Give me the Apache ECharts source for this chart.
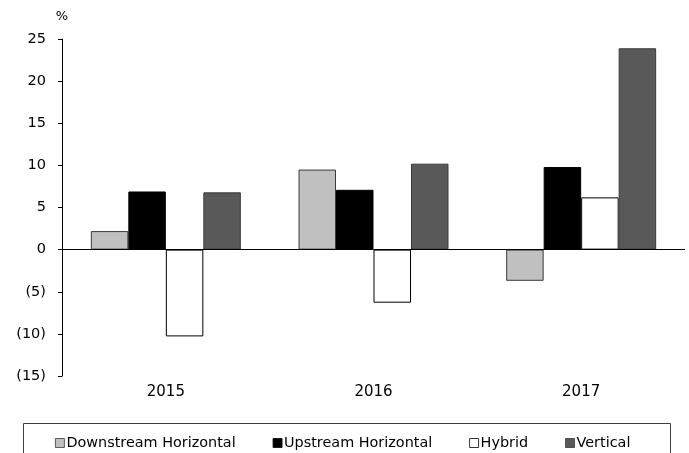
<!DOCTYPE html>
<html>
<head>
<meta charset="utf-8">
<script src="https://cdn.jsdelivr.net/npm/echarts@6/dist/echarts.min.js"></script>
<style>
  html, body { margin: 0; padding: 0; background: #fff; }
  #chart { width: 689px; height: 453px; }
</style>
</head>
<body>
<div id="chart"></div>
<script>
// Growth by deal type, percent
const years = ['2015', '2016', '2017'];
const downstreamHorizontal = [2.2, 9.5, -3.7];
const upstreamHorizontal = [6.9, 7.1, 9.8];
const hybrid = [-10.3, -6.3, 6.2];
const vertical = [6.8, 10.2, 23.9];
const yTicks = [-15, -10, -5, 0, 5, 10, 15, 20, 25];

const FONT = 'DejaVu Sans';

function fmt(v) {
  return v < 0 ? '(' + Math.abs(v) + ')' : String(v);
}

function barSeries(name, data, fill, border) {
  return {
    name: name,
    type: 'bar',
    data: data,
    barWidth: 37.5,
    barGap: '0%',
    itemStyle: { color: fill, borderColor: border, borderWidth: 1 },
    emphasis: { disabled: true }
  };
}

const chart = echarts.init(document.getElementById('chart'), null, { renderer: 'canvas' });

const series = [
  barSeries('Downstream Horizontal', downstreamHorizontal, '#C0C0C0', '#3a3a3a'),
  barSeries('Upstream Horizontal', upstreamHorizontal, '#000000', '#000000'),
  barSeries('Hybrid', hybrid, '#FFFFFF', '#000000'),
  barSeries('Vertical', vertical, '#595959', '#3a3a3a')
];
// zero baseline across the plot
series[0].markLine = {
  silent: true,
  symbol: 'none',
  label: { show: false },
  lineStyle: { color: '#000', width: 1, type: 'solid' },
  data: [{ yAxis: 0 }]
};

chart.setOption({
  animation: false,
  backgroundColor: '#fff',
  textStyle: { fontFamily: FONT },
  grid: { left: 62, right: 4, top: 39, bottom: 77, containLabel: false },
  xAxis: {
    type: 'category',
    data: years,
    axisLine: { show: false, onZero: false },
    axisTick: { show: false },
    axisLabel: { color: '#000', fontFamily: FONT, fontSize: 15, margin: 9 },
    splitLine: { show: false }
  },
  yAxis: {
    type: 'value',
    min: yTicks[0],
    max: yTicks[yTicks.length - 1],
    interval: 5,
    name: '%',
    nameLocation: 'end',
    nameGap: 16,
    nameTextStyle: { color: '#000', fontFamily: FONT, fontSize: 13, align: 'center' },
    axisLine: { show: true, lineStyle: { color: '#000', width: 1 } },
    axisTick: { show: true, length: 4, lineStyle: { color: '#000' } },
    axisLabel: { color: '#000', fontFamily: FONT, fontSize: 14.5, margin: 16, formatter: fmt },
    splitLine: { show: false }
  },
  legend: {
    left: 50,
    top: 431,
    itemWidth: 9,
    itemHeight: 9,
    itemGap: 37,
    icon: 'rect',
    selectedMode: false,
    itemStyle: { borderWidth: 0.8 },
    textStyle: { color: '#000', fontFamily: FONT, fontSize: 14.4, padding: [0, 0, 0, -3] },
    data: series.map(s => s.name)
  },
  graphic: [{
    type: 'rect',
    shape: { x: 23.5, y: 423.5, width: 647, height: 40 },
    style: { fill: 'none', stroke: '#404040', lineWidth: 1 },
    silent: true,
    z: -1
  }],
  series: series
});
</script>
</body>
</html>
